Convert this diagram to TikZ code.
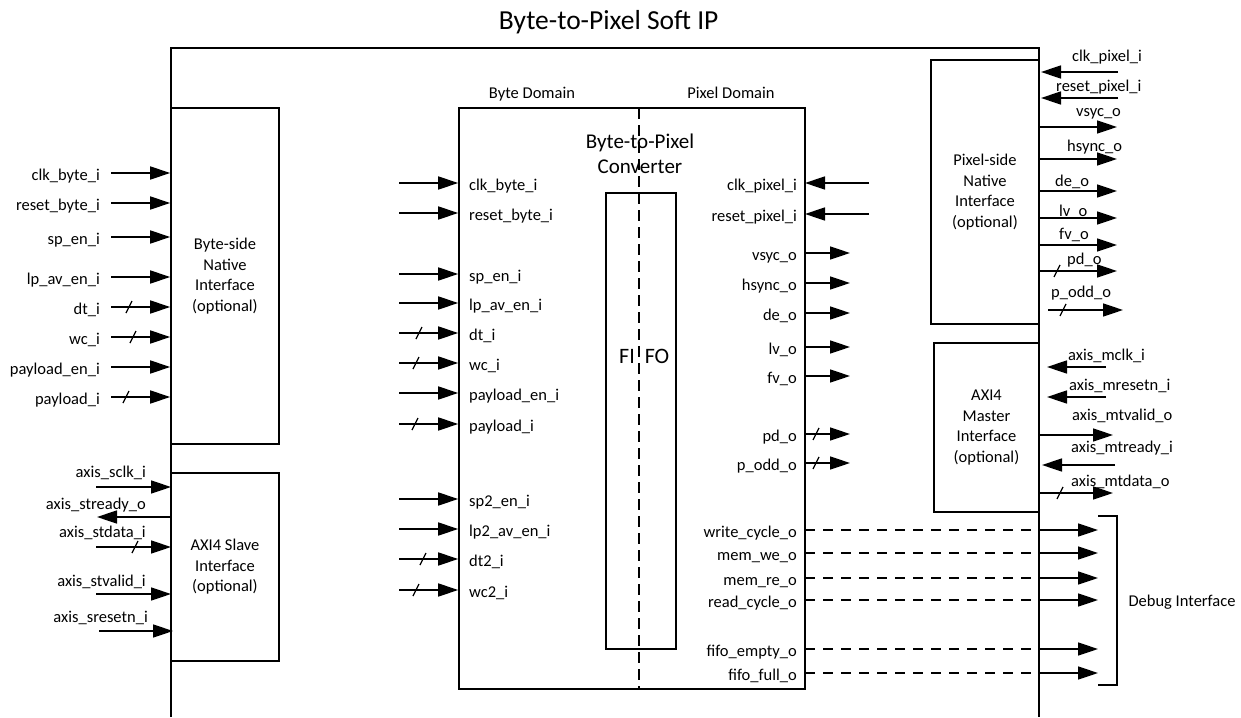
\documentclass[tikz,border=0pt]{standalone}
\usepackage{fontspec}
\setmainfont{Carlito}
\usetikzlibrary{arrows.meta}
\tikzset{
  blk/.style={draw, line width=1.6pt},
  box/.style={draw, line width=1.6pt, inner sep=0pt, align=center,
    font=\fontsize{16.5}{20.5}\selectfont},
  sig/.style={line width=1.6pt, -{Triangle[length=20pt,width=13pt]}},
  bus/.style={line width=1.2pt},
  dbg/.style={line width=1.6pt, dash pattern=on 10pt off 8pt},
  lbl/.style={inner sep=0pt, text height=12pt, text depth=4pt,
    font=\fontsize{16.5}{19}\selectfont},
}
\begin{document}
\begin{tikzpicture}[x=1pt,y=-1pt]
\useasboundingbox (0,0) rectangle (1241,717);

\node[font=\fontsize{27.5}{32}\selectfont, anchor=east] (ttl) at (722,22) {Byte-to-Pixel Soft IP};
\draw[blk] (171,717) -- (171,48) -- (1039,48) -- (1039,717);

\node[box, minimum width=108, minimum height=336] (bnat) at (225,276) {Byte-side\\Native\\Interface\\(optional)};
\node[box, minimum width=108, minimum height=188] (bslv) at (225,567) {AXI4 Slave\\Interface\\(optional)};
\node[box, minimum width=108, minimum height=264] (pnat) at (985,192) {Pixel-side\\Native\\Interface\\(optional)};
\node[box, minimum width=105, minimum height=169] (mst) at (986.5,427.5) {AXI4\\Master\\Interface\\(optional)};

\node[box, minimum width=346, minimum height=581] (conv) at (632,398.5) {};
\node[box, minimum width=70, minimum height=456] (fifo) at (641,421) {};
\coordinate (dtop) at (639,108);
\draw[line width=1.4pt, dash pattern=on 11pt off 6pt] (dtop) -- (dtop |- conv.south);

\node[lbl] (bdom) at (532,94) {Byte Domain};
\node[lbl] (pdom) at (731,94) {Pixel Domain};
\node[align=center, font=\fontsize{21}{25}\selectfont] (cname) at (640,154) {Byte-to-Pixel\\Converter};
\node[font=\fontsize{22}{26}\selectfont] (fi) at (627,356) {FI};
\node[font=\fontsize{22}{26}\selectfont] (fo) at (657,356) {FO};

\foreach \y/\t/\sx in {173/clk\_byte\_i/0, 203/reset\_byte\_i/0, 237/sp\_en\_i/0,
    277/lp\_av\_en\_i/0, 307/dt\_i/129, 337/wc\_i/133, 367/payload\_en\_i/0, 397/payload\_i/126}{
  \coordinate (a) at (111,\y);
  \draw[sig] (a) -- (a -| bnat.west);
  \node[lbl, anchor=east] at (100,\y+3) {\t};
  \ifnum\sx>0 \draw[bus] (\sx-3,\y+6) -- (\sx+3,\y-6); \fi
}

\foreach \xa/\xb/\y/\sx/\lx/\ly/\t in {96/171/487/0/146/473/axis\_sclk\_i,
    171/97/517/0/146/505/axis\_stready\_o, 96/171/547/135/146/533/axis\_stdata\_i,
    96/171/594/0/146/582/axis\_stvalid\_i, 99/173/631/0/148/618/axis\_sresetn\_i}{
  \coordinate (a) at (\xa,\y);
  \coordinate (b) at (\xb,\y);
  \draw[sig] (a) -- (b);
  \node[lbl, anchor=east] at (\lx,\ly) {\t};
  \ifnum\sx>0 \draw[bus] (\sx-3,\y+6) -- (\sx+3,\y-6); \fi
}

\foreach \y/\t/\sx in {183/clk\_byte\_i/0, 213/reset\_byte\_i/0, 274/sp\_en\_i/0,
    303/lp\_av\_en\_i/0, 333/dt\_i/419, 363/wc\_i/416, 393/payload\_en\_i/0, 424/payload\_i/415,
    499/sp2\_en\_i/0, 529/lp2\_av\_en\_i/0, 559/dt2\_i/423, 590/wc2\_i/416}{
  \coordinate (a) at (399,\y);
  \draw[sig] (a) -- (a -| conv.west);
  \node[lbl, anchor=west] at (469,\y+3) {\t};
  \ifnum\sx>0 \draw[bus] (\sx-3,\y+6) -- (\sx+3,\y-6); \fi
}

\foreach \xa/\xb/\y/\sx/\t in {869/805/183/0/clk\_pixel\_i, 869/805/214/0/reset\_pixel\_i,
    805/850/253/0/vsyc\_o, 805/850/283/0/hsync\_o, 805/850/313/0/de\_o, 805/850/347/0/lv\_o,
    805/850/376/0/fv\_o, 805/850/434/816/pd\_o, 805/850/463/816/p\_odd\_o}{
  \coordinate (a) at (\xa,\y);
  \coordinate (b) at (\xb,\y);
  \draw[sig] (a) -- (b);
  \node[lbl, anchor=east] at (797,\y+3) {\t};
  \ifnum\sx>0 \draw[bus] (\sx-3,\y+6) -- (\sx+3,\y-6); \fi
}

\foreach \y/\t in {530/write\_cycle\_o, 553/mem\_we\_o, 578/mem\_re\_o, 600/read\_cycle\_o,
    649/fifo\_empty\_o, 673/fifo\_full\_o}{
  \coordinate (a) at (805,\y);
  \coordinate (b) at (1039,\y);
  \coordinate (c) at (1098,\y);
  \draw[dbg] (a) -- (b);
  \draw[sig] (b) -- (c);
  \node[lbl, anchor=east] at (797,\y+3) {\t};
}
\draw[blk] (1098,516) -- (1117,516) -- (1117,685) -- (1098,685);
\node[lbl] (dbgif) at (1182,602) {Debug Interface};

\foreach \xa/\xb/\y/\sx/\lx/\ly/\t in {1118/1041/72/0/1072/57/clk\_pixel\_i,
    1118/1041/98/0/1056/87/reset\_pixel\_i, 1039/1117/127/0/1076/112/vsyc\_o,
    1039/1117/159/0/1067/147/hsync\_o, 1039/1117/191/0/1055/182/de\_o,
    1039/1117/218/0/1059/212/lv\_o, 1039/1117/245/0/1059/235/fv\_o,
    1039/1117/271/1057/1067/260/pd\_o, 1048/1123/310/1063/1051/293/p\_odd\_o,
    1106/1047/367/0/1068/356/axis\_mclk\_i, 1106/1047/397/0/1069/386/axis\_mresetn\_i,
    1039/1113/435/0/1072/416/axis\_mtvalid\_o, 1115/1042/465/0/1071/448/axis\_mtready\_i,
    1039/1113/493/1060/1071/482/axis\_mtdata\_o}{
  \coordinate (a) at (\xa,\y);
  \coordinate (b) at (\xb,\y);
  \draw[sig] (a) -- (b);
  \node[lbl, anchor=west] at (\lx,\ly) {\t};
  \ifnum\sx>0 \draw[bus] (\sx-3,\y+6) -- (\sx+3,\y-6); \fi
}
\end{tikzpicture}
\end{document}
